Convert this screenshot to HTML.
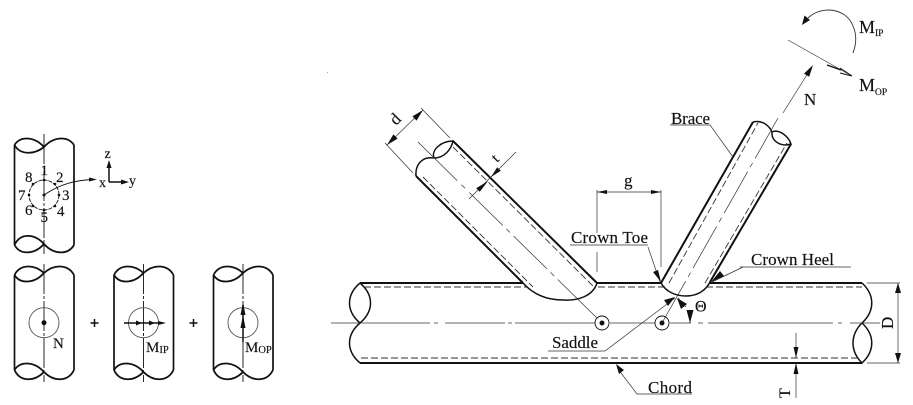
<!DOCTYPE html>
<html><head><meta charset="utf-8">
<style>
html,body{margin:0;padding:0;background:#fff;width:913px;height:405px;overflow:hidden}
svg{display:block}
text{font-family:"Liberation Serif",serif;fill:#111;stroke:#111;stroke-width:.15}
</style></head><body>
<svg width="913" height="405" viewBox="0 0 913 405" xmlns="http://www.w3.org/2000/svg">
<defs>
<g id="tube" fill="none" stroke="#111">
<path stroke-width="1.7" d="M14.5 275V370M74 275V370"/>
<path stroke-width="1.8" d="M14.5 275C20 264 34 264 44 273C54 264 68 264 74 275M14.5 275C20 284 34 284 44 273M14.5 370C20 361 34 361 44 372C54 382 68 382 74 370M14.5 370C20 382 34 382 44 372"/>
<path stroke-width="0.9" stroke-dasharray="30 2 3 2" d="M44 264V382"/>
</g>
</defs>
<rect width="913" height="405" fill="#fff"/>

<!-- top left tube -->
<g fill="none" stroke="#111">
<path stroke-width="1.7" d="M14.5 145V245M74 145V245"/>
<path stroke-width="1.8" d="M14.5 145C20 136 34 136 44 147C54 136 68 136 74 145M14.5 145C20 155 34 155 44 147M14.5 245C20 233 34 233 44 244C54 255 68 255 74 245M14.5 245C20 255 34 255 44 244"/>
<path stroke-width="0.9" stroke-dasharray="30 2 3 2" d="M44 134V254"/>
<circle cx="44" cy="195" r="15" stroke-width="0.9" stroke-dasharray="4 1"/>
<path stroke-width="0.9" d="M44 195C60 184 76 180 94 179.500"/>
<path stroke-width="1.5" d="M109 182V164M109 182H126"/>
</g>
<g fill="#111">
<circle cx="44" cy="180" r="1.300"/><circle cx="55" cy="184" r="1.300"/><circle cx="59" cy="195" r="1.300"/><circle cx="55" cy="206" r="1.300"/><circle cx="44" cy="210" r="1.300"/><circle cx="33" cy="206" r="1.300"/><circle cx="29" cy="195" r="1.300"/><circle cx="33" cy="184" r="1.300"/><circle cx="44" cy="195" r="1.500"/>
<path d="M97 179.500L89 177.500V181.500ZM109 160L106.500 168H111.500ZM129 182L121 179.500V184.500Z"/>
</g>
<g font-size="15">
<text x="40.500" y="175">1</text><text x="56" y="182">2</text><text x="62" y="200">3</text><text x="57" y="216">4</text><text x="40.500" y="222">5</text><text x="25" y="215">6</text><text x="18" y="200">7</text><text x="25" y="182">8</text>
<text x="104.500" y="158" font-size="14">z</text><text x="99" y="187" font-size="14">x</text><text x="129" y="185" font-size="14">y</text>
</g>

<!-- bottom row -->
<use href="#tube"/>
<use href="#tube" x="99.500"/>
<use href="#tube" x="199"/>
<g fill="none" stroke="#555" stroke-width="0.9">
<circle cx="44" cy="322.700" r="15"/><circle cx="143.500" cy="322.700" r="15"/><circle cx="243" cy="322.700" r="15"/>
</g>
<circle cx="44" cy="322.700" r="2.500" fill="#111"/>
<path d="M124 323H163" stroke="#111" stroke-width="1.500"/>
<path d="M142 323L136 320.500V325.500ZM155 323L149 320.500V325.500ZM166 323L158 321V325Z" fill="#111"/>
<path d="M243 342V305" stroke="#111" stroke-width="1.500"/>
<path d="M243 315L240.500 328H245.500ZM243 302L240.500 315H245.500Z" fill="#111"/>
<path d="M90.500 323H98.500M94.500 319V327M189.500 323H197.500M193.500 319V327" stroke="#111" stroke-width="1.500"/>
<text x="53" y="348" font-size="15">N</text>
<text x="146" y="352" font-size="15">M<tspan font-size="10.500" dy="1">IP</tspan></text>
<text x="245" y="352" font-size="15">M<tspan font-size="10.500" dy="1">OP</tspan></text>

<!-- chord -->
<g fill="none" stroke="#111">
<path stroke-width="2" d="M360 283H523M597 283H661M710 283H862"/>
<path stroke-width="2" d="M360 363H862"/>
<path stroke-width="1.500" d="M360 283C346 295 346 311 360 323C374 311 374 295 360 283M360 323C346 335 346 351 360 363M862 283C875 295 875 311 862 323C850 335 850 351 862 363C875 351 875 335 862 323"/>
<path stroke-width="0.9" stroke="#333" stroke-dasharray="7 3" d="M364 287H528M598 287H666M706 287H862M361 358H860"/>
<path stroke-width="0.8" stroke="#333" d="M331 323H430M434 323H438M445 323H505M508 323H512M515 323H595M610 323H655M670 323H691M698 323H703M708 323H833M838 323H842M850 323H880"/>
<!-- left brace -->
<path stroke-width="2" d="M453 141L597 283M416 176L523 283"/>
<path stroke-width="1.500" d="M597 283C593 296 578 301 563 300C545 300 532 293 523 283M453 141C441 141 431 150 434 158C444 158 451 150 453 141ZM434 158C422 156 415 165 416 176"/>
<path stroke-width="0.9" stroke="#333" stroke-dasharray="7 3" d="M453 147L594 287M423 177L533 287"/>
<path stroke-width="0.7" stroke="#333" stroke-dasharray="55 6 5 6 47 5 5 5 47 5 5 5" d="M418 142L602 323"/>
<!-- right brace -->
<path stroke-width="2" d="M661 283L753 122M710 282L791 144"/>
<path stroke-width="1.500" d="M661 283C666 292 676 296 686 296C698 296 706 290 710 282M753 122C762 120 769 125 772 132C778 129 788 135 791 144C782 147 771 142 772 132"/>
<path stroke-width="0.9" stroke="#333" stroke-dasharray="7 3" d="M669 283L758 123M705 283L787 143"/>
<path stroke-width="0.7" stroke="#333" stroke-dasharray="48 5 5 5" d="M662 323L778 118"/>
<!-- markers -->
<g stroke-width="0.9"><circle cx="602" cy="323" r="7"/><circle cx="662" cy="323" r="7"/></g>
<!-- dims -->
<g stroke-width="0.7" stroke="#333">
<path d="M421 108L450 138M385 143L413 173M387 145L423 110"/>
<path d="M516 152L469 199"/>
<path d="M597 190V233M597 252V272M597 192H661M661 190V267"/>
<path d="M867 283H900M867 363H900M898 283V363"/>
<path d="M796 333V358M796 363V398"/>
<path d="M648 247L660 282M648 245H570"/>
<path d="M743 267L712 282"/>
<path d="M670 125H710L733 157"/>
<path d="M740 267H851"/>
<path d="M548 351H605L675 298"/>
<path d="M618 369L637 394H692"/>
<path d="M690 323V310M678 298L686 307"/>
<path d="M788 40L852 76"/>
<path d="M783 113L808 73"/>
<path d="M808 18C822 5 846 8 853 26C857 35 856 45 853 53" stroke-width="0.9"/>
</g>
</g>

<g fill="#111">
<!-- arrows -->
<path d="M387 145L397.600 138.600L393.400 134.400ZM423 110L416.600 120.600L412.400 116.400Z"/>
<path d="M491 177L500.800 170.800L497.200 167.200ZM488 181L479.800 191.800L476.200 188.200Z"/>
<path d="M597 192L607 190V194ZM661 192L651 190V194Z"/>
<path d="M898 283L895 293H901ZM898 363L895 353H901Z"/>
<path d="M796 358L793.500 347H798.500ZM796 363L793.500 374H798.500Z"/>
<path d="M661 282L653 272L658 270Z"/>
<path d="M711 282L720 271L724 276Z"/>
<path d="M675 297L664 300L668 306Z"/>
<path d="M677 298L681 309L687 304Z"/>
<path d="M690 323L686.500 310H693.500Z"/>
<path d="M616 364L619 374L624 370Z"/>
<path d="M813 65L804 73.600L809.200 76.800Z"/>
<path d="M802 25L804.500 15.500L810 20Z"/>
<circle cx="602" cy="323" r="2.500"/><circle cx="662" cy="323" r="2.500"/>
</g>
<path d="M827 65L841 70" fill="none" stroke="#111" stroke-width="1.400"/>
<path d="M840 68L852 76L840 73" fill="none" stroke="#111" stroke-width="1"/>

<!-- labels -->
<g font-size="17">
<text x="571" y="243" textLength="77" lengthAdjust="spacing">Crown Toe</text>
<text x="671" y="124" textLength="39" lengthAdjust="spacing">Brace</text>
<text x="751" y="265" textLength="83" lengthAdjust="spacing">Crown Heel</text>
<text x="552" y="348" textLength="46" lengthAdjust="spacing">Saddle</text>
<text x="648" y="393" textLength="44" lengthAdjust="spacing">Chord</text>
<text x="624" y="186">g</text>
<text x="804" y="105">N</text>
<text x="859" y="33" font-size="18">M<tspan font-size="9.500" dy="3">IP</tspan></text>
<text x="859" y="91" font-size="18">M<tspan font-size="9.500" dy="4">OP</tspan></text>
<text x="695" y="311.500" font-size="16">Θ</text>
<text transform="translate(396 126) rotate(-45)">d</text>
<text transform="translate(497 163) rotate(-45)" font-size="15">t</text>
<text transform="translate(893 329) rotate(-90)">D</text>
<text transform="translate(790 398) rotate(-90)" font-size="16">T</text>
</g>
<rect x="327" y="72" width="1" height="1" fill="#c99"/>
</svg>
</body></html>
